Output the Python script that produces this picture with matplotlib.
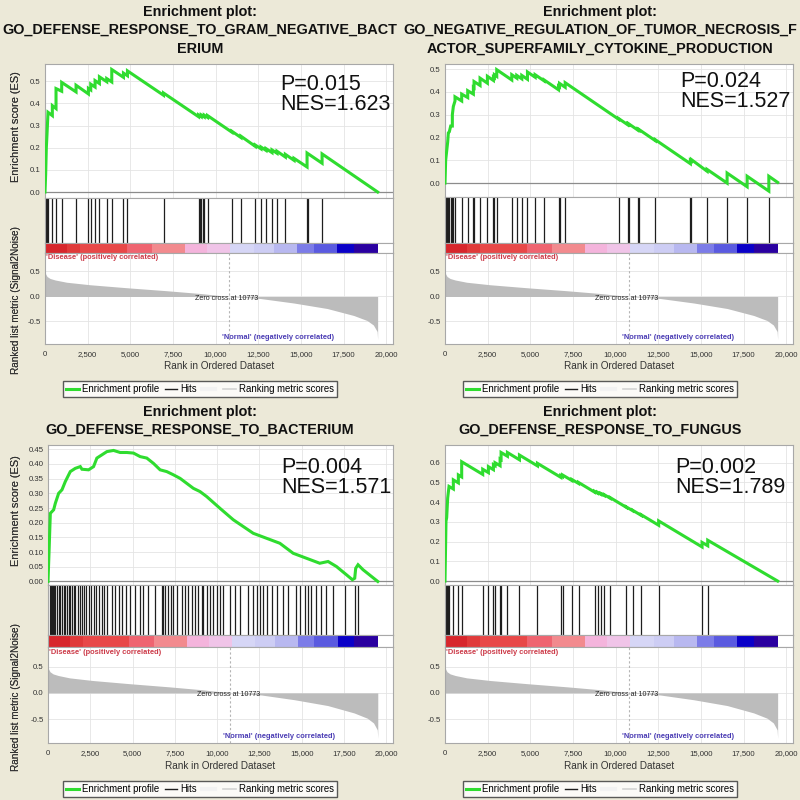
import matplotlib
matplotlib.use('Agg')
import matplotlib.pyplot as plt
from matplotlib.lines import Line2D
from matplotlib.ticker import FuncFormatter, MultipleLocator, FormatStrFormatter

plt.rcParams['font.family'] = ['Liberation Sans', 'DejaVu Sans']

# ---------------- data ----------------
titles = [
    ["Enrichment plot:", "GO_DEFENSE_RESPONSE_TO_GRAM_NEGATIVE_BACT", "ERIUM"],
    ["Enrichment plot:", "GO_NEGATIVE_REGULATION_OF_TUMOR_NECROSIS_F", "ACTOR_SUPERFAMILY_CYTOKINE_PRODUCTION"],
    ["Enrichment plot:", "GO_DEFENSE_RESPONSE_TO_BACTERIUM"],
    ["Enrichment plot:", "GO_DEFENSE_RESPONSE_TO_FUNGUS"],
]
p_values = ["0.015", "0.024", "0.004", "0.002"]
nes_values = ["1.623", "1.527", "1.571", "1.789"]

es1_rank = [0, 39, 78, 117, 176, 430, 430, 646, 646, 978, 978, 1820, 1820, 2544, 2544, 2681, 2681, 2935, 2935,
            3190, 3190, 3620, 3620, 3914, 3914, 4599, 4599, 4834, 4834, 6947, 6947, 9002, 9002, 9158, 9158,
            9335, 9335, 9530, 9530, 10959, 10959, 11487, 11487, 12329, 12329, 12662, 12662, 12955, 12955,
            13307, 13307, 13601, 13601, 14090, 14090, 14600, 14600, 15362, 15362, 16243, 16243, 19500]
es1_score = [0.0, 0.08, 0.20, 0.26, 0.36, 0.345, 0.39, 0.377, 0.467, 0.455, 0.495, 0.452, 0.482, 0.443, 0.468,
             0.461, 0.487, 0.474, 0.503, 0.490, 0.520, 0.498, 0.512, 0.497, 0.553, 0.518, 0.537, 0.525, 0.547,
             0.437, 0.447, 0.340, 0.348, 0.340, 0.348, 0.339, 0.347, 0.337, 0.345, 0.270, 0.274, 0.246, 0.252,
             0.206, 0.212, 0.195, 0.203, 0.188, 0.196, 0.178, 0.190, 0.175, 0.184, 0.158, 0.170, 0.143, 0.152,
             0.113, 0.176, 0.130, 0.172, 0.0]
hits1 = [39, 78, 117, 176, 430, 646, 978, 1820, 2544, 2681, 2935, 3190, 3620, 3914, 4599, 4834, 6947, 9002,
         9061, 9158, 9237, 9335, 9530, 10959, 11487, 12329, 12662, 12955, 13307, 13601, 14090, 15362, 15401, 16243]

es2_rank = [0, 39, 98, 157, 196, 254, 333, 431, 431, 489, 587, 587, 978, 978, 1331, 1331, 1663, 1663, 1703, 1703,
            2055, 2055, 2485, 2485, 2838, 2838, 2896, 2896, 3033, 3033, 3914, 3914, 4208, 4208, 4501, 4501,
            4834, 4834, 5284, 5284, 5812, 5812, 6654, 6654, 6713, 6713, 7045, 7045, 10176, 10176, 10705, 10705,
            10764, 10764, 11292, 11292, 11370, 11370, 12329, 12329, 14384, 14384, 14443, 14443, 15362, 15362,
            16537, 16537, 17711, 17711, 18983, 18983, 19500]
es2_score = [0.0, 0.10, 0.14, 0.18, 0.22, 0.225, 0.25, 0.25, 0.30, 0.336, 0.36, 0.378, 0.36, 0.39, 0.375, 0.405,
             0.39, 0.42, 0.418, 0.445, 0.428, 0.46, 0.438, 0.468, 0.45, 0.465, 0.462, 0.475, 0.468, 0.497, 0.452,
             0.475, 0.460, 0.472, 0.457, 0.472, 0.455, 0.487, 0.464, 0.475, 0.448, 0.452, 0.409, 0.425, 0.422,
             0.437, 0.420, 0.440, 0.280, 0.283, 0.256, 0.260, 0.257, 0.260, 0.233, 0.236, 0.232, 0.235, 0.186,
             0.190, 0.085, 0.100, 0.097, 0.103, 0.052, 0.060, 0.0, 0.044, -0.016, 0.030, -0.035, 0.030, 0.003]
hits2 = [39, 98, 157, 254, 333, 431, 489, 587, 978, 1331, 1663, 1703, 2055, 2485, 2838, 2896, 3033, 3914, 4208,
         4501, 4834, 5284, 5812, 6654, 6713, 7045, 10176, 10705, 10764, 11292, 11370, 12329, 14384, 14443, 15362,
         16537, 17711, 18983]

es3_rank = [0, 59, 138, 334, 433, 629, 826, 1023, 1318, 1613, 1908, 2006, 2400, 2695, 2891, 3187, 3482, 3875,
            4268, 4662, 5055, 5449, 5842, 6235, 6629, 7022, 7416, 7809, 8202, 8596, 8989, 9383, 10169, 10956,
            12136, 12923, 13710, 14497, 15283, 16070, 16562, 17054, 17644, 17998, 18136, 18195, 18333, 18628, 19500]
es3_score = [0.0, 0.096, 0.232, 0.244, 0.266, 0.300, 0.312, 0.340, 0.374, 0.385, 0.391, 0.382, 0.380, 0.391,
             0.420, 0.431, 0.442, 0.446, 0.439, 0.439, 0.437, 0.425, 0.420, 0.402, 0.380, 0.374, 0.363, 0.351,
             0.334, 0.317, 0.306, 0.289, 0.249, 0.210, 0.164, 0.147, 0.130, 0.096, 0.079, 0.062, 0.068, 0.051,
             0.023, 0.006, 0.011, 0.045, 0.057, 0.040, 0.0]
hits3 = [98, 177, 236, 295, 374, 433, 531, 629, 728, 826, 924, 1023, 1121, 1220, 1318, 1416, 1515, 1613, 1751,
         1869, 2006, 2144, 2262, 2400, 2537, 2695, 2852, 2990, 3187, 3324, 3482, 3776, 3973, 4170, 4367, 4622,
         4858, 5154, 5449, 5606, 5940, 6334, 6727, 6825, 6924, 7121, 7258, 7416, 7612, 7907, 8104, 8301, 8497,
         8694, 8891, 9088, 9186, 9383, 9579, 9776, 9973, 10169, 10366, 10759, 11054, 11350, 11841, 12136, 12333,
         12530, 12726, 12923, 13218, 13513, 13907, 14202, 14693, 14890, 15186, 15382, 15579, 15874, 16169,
         16464, 16857, 17546, 18136, 18333]

es4_rank = [0, 59, 98, 157, 235, 489, 489, 783, 783, 978, 978, 2211, 2211, 2544, 2544, 2838, 2838, 2935, 2935,
            3229, 3229, 3288, 3288, 3659, 3659, 4364, 4364, 5421, 5421, 6791, 6791, 6888, 6888, 7437, 7437,
            7828, 7828, 8767, 8767, 8943, 8943, 9139, 9139, 9335, 9335, 9687, 9687, 10627, 10627, 10999, 10999,
            11507, 11507, 12525, 12525, 15069, 15069, 15402, 15402, 19500]
es4_score = [0.0, 0.304, 0.321, 0.421, 0.480, 0.467, 0.513, 0.498, 0.538, 0.528, 0.605, 0.541, 0.567, 0.550,
             0.580, 0.565, 0.590, 0.585, 0.600, 0.585, 0.619, 0.616, 0.652, 0.633, 0.652, 0.615, 0.639, 0.584,
             0.597, 0.526, 0.535, 0.530, 0.538, 0.510, 0.515, 0.495, 0.500, 0.451, 0.455, 0.446, 0.450, 0.440,
             0.444, 0.434, 0.438, 0.420, 0.423, 0.374, 0.376, 0.357, 0.359, 0.333, 0.336, 0.283, 0.305, 0.173,
             0.196, 0.179, 0.207, 0.0]
hits4 = [59, 98, 157, 235, 489, 783, 978, 2211, 2544, 2838, 2935, 3229, 3288, 3659, 4364, 5421, 6791, 6888, 7437,
         7828, 8767, 8943, 9139, 9335, 9687, 10627, 10999, 11507, 12525, 15069, 15402]

metric_rank = [0, 40, 120, 300, 600, 1270, 2640, 4800, 7150, 9100, 10773, 12620, 14580, 16540, 18100, 18880,
               19250, 19470, 19500]
metric_value = [0.50, 0.45, 0.40, 0.36, 0.33, 0.285, 0.235, 0.175, 0.115, 0.06, 0.0, -0.04, -0.13, -0.24,
                -0.38, -0.48, -0.57, -0.70, -0.86]
zero_cross = 10773

cbar_edges = [0, 1272, 2055, 4795, 6262, 8219, 9491, 10861, 12231, 13405, 14775, 15754, 17124, 18102, 19500]
cbar_colors = ['#d7262c', '#e03a3a', '#e84848', '#ef6470', '#f28a8e', '#f4b4dc', '#f0c4e8', '#d6d6f6',
               '#cdcdf4', '#b8b8f0', '#7c7ce8', '#5a5ae0', '#0a00c8', '#2a00a0']

x_ticks = [0, 2500, 5000, 7500, 10000, 12500, 15000, 17500, 20000]
metric_ticks = [-0.5, 0.0, 0.5]

es_ranks = [es1_rank, es2_rank, es3_rank, es4_rank]
es_scores = [es1_score, es2_score, es3_score, es4_score]
hits_all = [hits1, hits2, hits3, hits4]
es_steps = [0.1, 0.1, 0.05, 0.1]
es_fmt = ['%.1f', '%.1f', '%.2f', '%.1f']
es_ylims = [(-0.027, 0.578), (-0.061, 0.522), (-0.012, 0.4645), (-0.02, 0.69)]

# ---------------- layout (pixels) ----------------
BG = '#ece9d8'
GRID = '#e4e4e4'
SPINE = '#a8a8a8'
W = 800.0

fig = plt.figure(figsize=(8, 8), dpi=100, facecolor=BG)


def add_ax(left, top, right, bottom):
    return fig.add_axes([left / W, 1 - bottom / W, (right - left) / W, (bottom - top) / W])


def ftext(x, y, s, **kw):
    return fig.text(x / W, 1 - y / W, s, **kw)


layouts = [
    dict(left=45, right=393, cx=200, es_top=64, es_bot=198, hits_bot=243, cbar_bot=253, met_bot=344,
         title_y=[12, 30, 49], p_x=280, p_top=74, xlab_y=366, leg_y=389),
    dict(left=445, right=793, cx=600, es_top=64, es_bot=197, hits_bot=243, cbar_bot=253, met_bot=344,
         title_y=[12, 30, 49], p_x=680, p_top=71, xlab_y=366, leg_y=389),
    dict(left=48, right=393, cx=200, es_top=445, es_bot=585, hits_bot=635, cbar_bot=647, met_bot=743,
         title_y=[412, 430], p_x=281, p_top=457, xlab_y=766, leg_y=789),
    dict(left=445, right=793, cx=600, es_top=445, es_bot=585, hits_bot=635, cbar_bot=647, met_bot=743,
         title_y=[412, 430], p_x=675, p_top=457, xlab_y=766, leg_y=789),
]

XMAX = 20400
comma_fmt = FuncFormatter(lambda v, p: '{:,}'.format(int(v)))


def style_spines(ax):
    for s in ax.spines.values():
        s.set_color(SPINE)
        s.set_linewidth(0.8)


for i, L in enumerate(layouts):
    # titles
    for j, t in enumerate(titles[i]):
        ftext(L['cx'], L['title_y'][j], t, ha='center', va='center', fontsize=10.4, fontweight='bold',
              color='#111111')

    # ES axes
    ax = add_ax(L['left'], L['es_top'], L['right'], L['es_bot'])
    ax.set_facecolor('white')
    ax.set_xlim(0, XMAX)
    ax.set_ylim(*es_ylims[i])
    ax.set_xticks(x_ticks)
    ax.yaxis.set_major_locator(MultipleLocator(es_steps[i]))
    ax.yaxis.set_major_formatter(FormatStrFormatter(es_fmt[i]))
    ax.tick_params(axis='x', labelbottom=False, length=0)
    ax.tick_params(axis='y', length=0, pad=3, labelsize=5.6, labelcolor='#333333')
    ax.grid(True, color=GRID, lw=0.6)
    ax.set_axisbelow(True)
    ax.axhline(0, color='#8c8c8c', lw=0.9, zorder=2)
    ax.plot(es_ranks[i], es_scores[i], color='#2fdc2f', lw=2.2, zorder=3, solid_joinstyle='miter')
    style_spines(ax)
    ftext(16, (L['es_top'] + L['es_bot']) / 2 - 4, 'Enrichment score (ES)', rotation=90, ha='center',
          va='center', fontsize=7.9, color='#333333')
    ftext(L['p_x'], L['p_top'], 'P=' + p_values[i] + '\nNES=' + nes_values[i], ha='left', va='top',
          fontsize=15.5, color='#111111', linespacing=0.92)

    # hits axes
    axh = add_ax(L['left'], L['es_bot'], L['right'], L['hits_bot'])
    axh.set_facecolor('white')
    axh.set_xlim(0, XMAX)
    axh.set_ylim(0, 1)
    axh.vlines(hits_all[i], 0, 1, color='#1e1e1e', lw=0.9)
    axh.set_xticks([])
    axh.set_yticks([])
    style_spines(axh)

    # color bar axes
    axc = add_ax(L['left'], L['hits_bot'], L['right'], L['cbar_bot'])
    axc.set_facecolor('white')
    axc.set_xlim(0, XMAX)
    axc.set_ylim(0, 1)
    for k in range(len(cbar_colors)):
        axc.axvspan(cbar_edges[k], cbar_edges[k + 1], color=cbar_colors[k], lw=0)
    axc.set_xticks([])
    axc.set_yticks([])
    style_spines(axc)

    # ranked metric axes
    axm = add_ax(L['left'], L['cbar_bot'], L['right'], L['met_bot'])
    axm.set_facecolor('white')
    axm.set_xlim(0, XMAX)
    axm.set_ylim(-0.95, 0.87)
    axm.set_xticks(x_ticks)
    axm.xaxis.set_major_formatter(comma_fmt)
    axm.set_yticks(metric_ticks)
    axm.yaxis.set_major_formatter(FormatStrFormatter('%.1f'))
    axm.tick_params(axis='both', length=0, labelsize=5.6, labelcolor='#333333')
    axm.tick_params(axis='x', pad=5)
    axm.tick_params(axis='y', pad=3)
    axm.grid(True, color=GRID, lw=0.6)
    axm.set_axisbelow(True)
    axm.fill_between(metric_rank, metric_value, 0, color='#bcbcbc', lw=0, zorder=2)
    axm.axvline(zero_cross, color='#b4b4b4', lw=0.8, ls=(0, (2, 2)), zorder=3)
    axm.text(zero_cross - 100, -0.035, 'Zero cross at ' + str(zero_cross), ha='center', va='center',
             fontsize=5.1, color='#222222', zorder=4)
    axm.text(60, 0.77, "'Disease' (positively correlated)", ha='left', va='center', fontsize=5.4,
             fontweight='bold', color='#cc3a48', zorder=4)
    axm.text(13650, -0.82, "'Normal' (negatively correlated)", ha='center', va='center', fontsize=5.4,
             fontweight='bold', color='#4a3cb4', zorder=4)
    style_spines(axm)
    ftext((L['left'] + L['right']) / 2, L['xlab_y'], 'Rank in Ordered Dataset', ha='center', va='center',
          fontsize=7.2, color='#333333')
    ftext(16, (L['cbar_bot'] + L['met_bot']) / 2 + 2, 'Ranked list metric (Signal2Noise)', rotation=90,
          ha='center', va='center', fontsize=7.2, color='#333333')

    # legend
    handles = [Line2D([], [], color='#2fdc2f', lw=2.2),
               Line2D([], [], color='#1e1e1e', lw=1.0),
               Line2D([], [], color='#f2f2f2', lw=3.0),
               Line2D([], [], color='#d4d4d4', lw=1.2)]
    labels = ['Enrichment profile', 'Hits', '', 'Ranking metric scores']
    leg = fig.legend(handles, labels, loc='center', bbox_to_anchor=(L['cx'] / W, 1 - L['leg_y'] / W),
                     ncol=4, fontsize=6.9, frameon=True, fancybox=False, edgecolor='#333333',
                     handlelength=1.3, handletextpad=0.3, columnspacing=0.6, borderpad=0.35,
                     borderaxespad=0)
    leg.get_frame().set_linewidth(1.0)
    leg.get_frame().set_facecolor('white')

fig.savefig('out.png', dpi=100, facecolor=BG)
